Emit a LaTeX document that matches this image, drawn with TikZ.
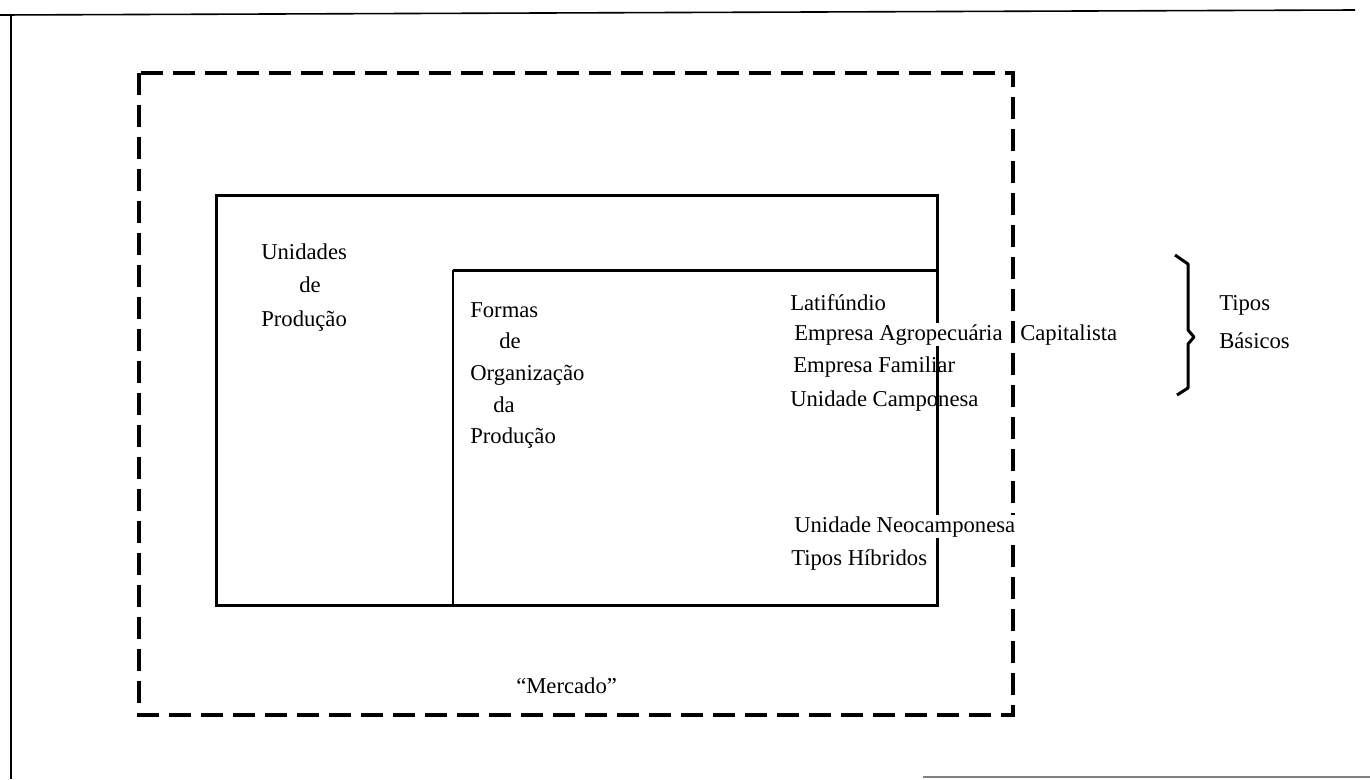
\documentclass[tikz,border=0pt]{standalone}
\usepackage{fontspec}
\setmainfont{Liberation Serif}

\tikzset{
	label text/.style={anchor=base west, inner sep=0.75pt, font=\fontsize{17}{20}\selectfont},
	mercado line/.style={line width=2.6, dash pattern=on 16.5pt off 7.5pt},
}

\begin{document}
\begin{tikzpicture}[x=0.75pt,y=0.75pt,yscale=-1,xscale=1]
	\useasboundingbox (0,0) rectangle (1370,779);

	% Page frame
	\draw [line width=1.2]    (0,15) -- (1355,10) ;
	\draw [line width=1.2]    (11,15) -- (11,779) ;
	\draw [line width=1, gray]    (923,777) -- (1370,777) ;

	% Shape: Dashed Rectangle
	\draw [mercado line]    (139,73) rectangle (1013,715) ;
	% Shape: Rectangle
	\draw [line width=2.25]    (216,195) rectangle (937,605) ;
	% Shape: Inner Rectangle
	\draw [line width=2.25]    (937,270) -- (453,270) ;
	\draw [line width=1.5]    (453,270) -- (453,605) ;

	% Text Node
	\node (unid1) at (260,259) [label text] {Unidades};
	% Text Node
	\node (unid2) at (298,292) [label text] {de};
	% Text Node
	\node (unid3) at (260,326) [label text] {Produção};
	% Text Node
	\node (form1) at (469,317) [label text] {Formas};
	% Text Node
	\node (form2) at (498,348) [label text] {de};
	% Text Node
	\node (form3) at (469,380) [label text] {Organização};
	% Text Node
	\node (form4) at (492,412) [label text] {da};
	% Text Node
	\node (form5) at (469,443) [label text] {Produção};
	% Text Node
	\node (latif) at (789,310) [label text] {Latifúndio};
	% Text Node
	\node (agro) at (793,340) [label text, fill=white] {Empresa Agropecuária};
	% Text Node
	\node (capit) at (1019,340) [label text] {Capitalista};
	% Text Node
	\node (famil) at (792,372) [label text] {Empresa Familiar};
	% Text Node
	\node (camp) at (789,406) [label text] {Unidade Camponesa};
	% Text Node
	\node (neo) at (793,532) [label text, fill=white] {Unidade Neocamponesa};
	% Text Node
	\node (hibr) at (790,565) [label text] {Tipos Híbridos};
	% Text Node
	\node (tipos) at (1218,310) [label text] {Tipos};
	% Text Node
	\node (basic) at (1218,348) [label text] {Básicos};
	% Text Node
	\node (merc) at (515,693) [label text] {“Mercado”};

	% Brace
	\draw [line width=2.25, line join=round]    (1175,255) -- (1188,264) -- (1188,330) -- (1194,337) -- (1188,344) -- (1188,388) -- (1177,395) ;

\end{tikzpicture}
\end{document}
